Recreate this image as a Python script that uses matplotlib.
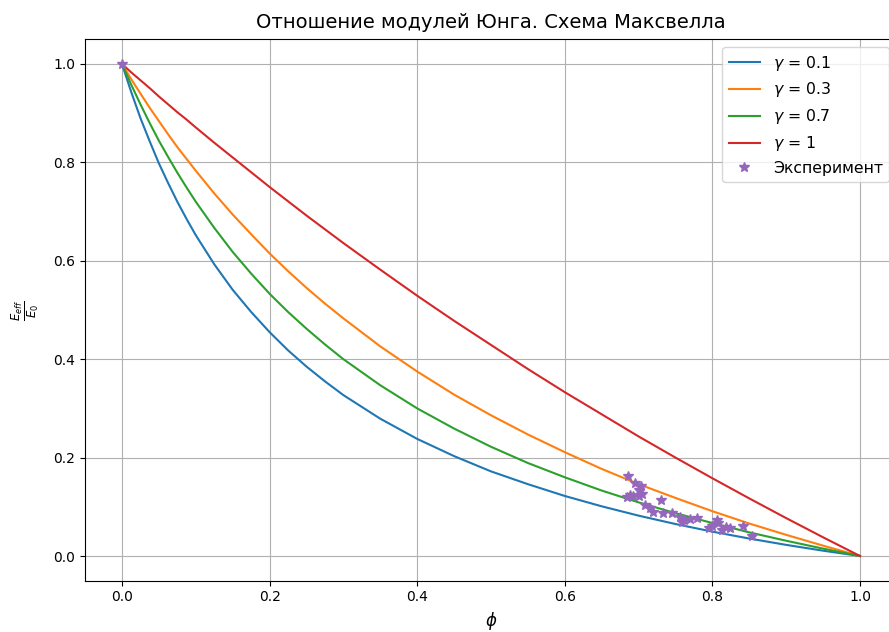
import matplotlib
matplotlib.use("Agg")
import matplotlib.pyplot as plt

phi = [0.0, 0.0125, 0.025, 0.0375, 0.05, 0.0625, 0.075, 0.0875, 0.1, 0.125, 0.15, 0.175,
       0.2, 0.225, 0.25, 0.275, 0.3, 0.35, 0.4, 0.45,
       0.5, 0.55, 0.6, 0.65, 0.7, 0.75, 0.8, 0.85, 0.9, 0.95, 1.0]

e_g01 = [1.0, 0.943, 0.890, 0.843, 0.798, 0.758, 0.720, 0.685, 0.652, 0.593, 0.541, 0.496,
         0.455, 0.418, 0.385, 0.355, 0.327, 0.279, 0.238, 0.203,
         0.172, 0.146, 0.122, 0.101, 0.082, 0.065, 0.0495, 0.0355, 0.0226, 0.0108, 0.0]
e_g03 = [1.0, 0.969, 0.940, 0.911, 0.884, 0.857, 0.831, 0.807, 0.783, 0.737, 0.694, 0.654,
         0.615, 0.579, 0.545, 0.513, 0.483, 0.426, 0.375, 0.328,
         0.286, 0.247, 0.211, 0.177, 0.146, 0.118, 0.091, 0.066, 0.043, 0.021, 0.0]
e_g07 = [1.0, 0.958, 0.918, 0.880, 0.844, 0.811, 0.779, 0.749, 0.720, 0.667, 0.618, 0.574,
         0.533, 0.496, 0.462, 0.430, 0.400, 0.347, 0.300, 0.259,
         0.222, 0.189, 0.160, 0.133, 0.109, 0.087, 0.067, 0.048, 0.031, 0.015, 0.0]
e_g1 = [1.0, 0.983, 0.967, 0.951, 0.934, 0.918, 0.902, 0.887, 0.871, 0.840, 0.810, 0.780,
        0.750, 0.721, 0.692, 0.664, 0.636, 0.582, 0.529, 0.478,
        0.429, 0.380, 0.333, 0.288, 0.243, 0.200, 0.158, 0.117, 0.077, 0.038, 0.0]

series_labels = [r'$\gamma$ = 0.1', r'$\gamma$ = 0.3', r'$\gamma$ = 0.7', r'$\gamma$ = 1']

exp_phi = [0.0, 0.686, 0.695, 0.703, 0.684, 0.693, 0.700, 0.704, 0.701, 0.689, 0.709,
           0.731, 0.720, 0.733, 0.745, 0.756, 0.761, 0.759, 0.779, 0.795, 0.806, 0.808,
           0.813, 0.824, 0.842, 0.853, 0.715, 0.770, 0.800, 0.818]
exp_e = [1.0, 0.163, 0.148, 0.142, 0.119, 0.122, 0.121, 0.127, 0.134, 0.125, 0.104,
         0.114, 0.090, 0.088, 0.087, 0.080, 0.073, 0.070, 0.077, 0.056, 0.073, 0.067,
         0.053, 0.056, 0.061, 0.041, 0.098, 0.075, 0.060, 0.058]

fig = plt.figure(figsize=(8.89, 6.32), dpi=100)
ax = fig.add_axes([85.1 / 889, 51.4 / 632, 811.8 / 889, 541.2 / 632])

for vals, lab in zip([e_g01, e_g03, e_g07, e_g1], series_labels):
    ax.plot(phi, vals, label=lab)
ax.plot(exp_phi, exp_e, '*', color='C4', markersize=7, label='Эксперимент')

ax.set_xlim(-0.05, 1.05)
ax.set_ylim(-0.05, 1.05)
ax.grid(True)
ax.set_title('Отношение модулей Юнга. Схема Максвелла', fontsize=14, pad=8)
ax.set_xlabel(r'$\phi$', fontsize=12, labelpad=4)
ax.set_ylabel(r'$\frac{E_{eff}}{E_0}$', fontsize=12, labelpad=9)
ax.legend(loc='upper right', fontsize=11.3)

fig.savefig('out.png', dpi=100)
